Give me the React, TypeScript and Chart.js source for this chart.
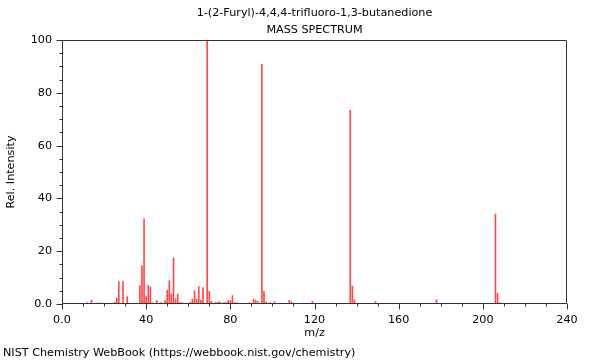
import React, { useEffect, useRef } from 'react';
import { Chart, registerables } from 'chart.js';

Chart.register(...registerables);

const TITLE = '1-(2-Furyl)-4,4,4-trifluoro-1,3-butanedione';
const SUBTITLE = 'MASS SPECTRUM';
const X_TITLE = 'm/z';
const Y_TITLE = 'Rel. Intensity';
const FOOTER = 'NIST Chemistry WebBook (https://webbook.nist.gov/chemistry)';

const mz = [
  12, 14, 17, 18, 25, 26, 27, 29, 31, 37, 38, 39, 40, 41, 42, 43, 45, 47, 49, 50,
  51, 52, 53, 54, 55, 56, 57, 61, 62, 63, 64, 65, 66, 67, 69, 70, 71, 73, 74, 75,
  77, 78, 79, 80, 81, 82, 83, 89, 91, 92, 93, 95, 96, 97, 99, 101, 108, 109, 119, 121,
  137, 138, 139, 149, 178, 206, 207, 208,
];
const intensity = [
  0.5, 1.5, 0.4, 0.4, 0.6, 2.3, 8.5, 8.6, 2.8, 7.0, 14.5, 32.3, 2.8, 7.0, 6.4, 0.5, 1.3, 0.5, 1.3, 5.3,
  8.8, 3.8, 17.4, 1.9, 3.8, 0.5, 0.5, 0.7, 1.9, 5.0, 1.8, 6.6, 1.5, 6.2, 100, 4.8, 1.0, 0.6, 0.7, 0.8,
  0.5, 0.5, 1.3, 1.3, 3.2, 0.5, 0.5, 0.5, 1.8, 1.5, 1.0, 90.8, 4.8, 0.8, 0.5, 0.9, 1.4, 0.8, 1.0, 0.3,
  73.4, 6.8, 1.6, 0.9, 1.6, 34.1, 4.0, 0.5,
];

const xLabelTicks = [0, 40, 80, 120, 160, 200, 240];
const yLabelTicks = [0, 20, 40, 60, 80, 100];

const FONT_FAMILY = '"DejaVu Sans", sans-serif';
const AXIS_COLOR = '#333333';
const BAR_COLOR = 'rgba(255, 0, 0, 0.72)';

const fmt = (v: number) => (v === 0 ? '0.0' : String(v));

const decorPlugin = {
  id: 'decor',
  afterDraw(chart: any) {
    const { ctx, chartArea: a, scales } = chart;
    const xs = scales.x;
    const ys = scales.y;
    const L = Math.round(a.left) + 0.5;
    const R = Math.round(a.right) - 0.5;
    const T = Math.round(a.top) + 0.5;
    const B = Math.round(a.bottom) - 0.5;
    ctx.save();
    ctx.strokeStyle = AXIS_COLOR;
    ctx.lineWidth = 1;
    ctx.beginPath();
    ctx.moveTo(L, T);
    ctx.lineTo(R, T);
    ctx.lineTo(R, B);
    ctx.lineTo(L, B);
    ctx.closePath();
    xs.ticks.forEach((t: any) => {
      const px = Math.round(xs.getPixelForValue(t.value)) + 0.5;
      const len = xLabelTicks.includes(t.value) ? 6 : 3;
      ctx.moveTo(px, B);
      ctx.lineTo(px, B + len);
    });
    ys.ticks.forEach((t: any) => {
      const py = Math.round(ys.getPixelForValue(t.value)) + 0.5;
      const len = yLabelTicks.includes(t.value) ? 6 : 3;
      ctx.moveTo(L, py);
      ctx.lineTo(L - len, py);
    });
    ctx.stroke();

    ctx.fillStyle = '#000';
    ctx.font = `11.2px ${FONT_FAMILY}`;
    ctx.textBaseline = 'middle';
    ctx.textAlign = 'center';
    const cx = (a.left + a.right) / 2;
    ctx.fillText(TITLE, cx, 13);
    ctx.fillText(SUBTITLE, cx, 30);
    ctx.fillText(X_TITLE, cx, 333);
    ctx.textAlign = 'left';
    ctx.fillText(FOOTER, 3, 353);
    ctx.save();
    ctx.translate(11, (a.top + a.bottom) / 2);
    ctx.rotate(-Math.PI / 2);
    ctx.textAlign = 'center';
    ctx.fillText(Y_TITLE, 0, 0);
    ctx.restore();
    ctx.restore();
  },
};

export default function App() {
  const ref = useRef<HTMLCanvasElement | null>(null);
  useEffect(() => {
    if (!ref.current) return;
    Chart.defaults.font.family = FONT_FAMILY;
    Chart.defaults.font.size = 11.2;
    Chart.defaults.color = '#000';
    const chart = new Chart(ref.current, {
      type: 'bar',
      data: {
        datasets: [
          {
            data: mz.map((m, i) => ({ x: m, y: intensity[i] })),
            backgroundColor: BAR_COLOR,
            borderWidth: 0,
            barThickness: 1,
          },
        ],
      },
      options: {
        responsive: false,
        animation: false,
        layout: { padding: { left: 0, right: 33, top: 40, bottom: 0 } },
        plugins: { legend: { display: false }, tooltip: { enabled: false }, title: { display: false } },
        scales: {
          x: {
            type: 'linear',
            min: 0,
            max: 240,
            offset: false,
            grid: { display: false, drawTicks: false },
            border: { display: false },
            ticks: {
              stepSize: 10,
              autoSkip: false,
              maxRotation: 0,
              padding: 9,
              callback: (v: any) => (xLabelTicks.includes(Number(v)) ? fmt(Number(v)) : ''),
            },
            afterFit: (s: any) => {
              s.height = 56;
            },
          },
          y: {
            min: 0,
            max: 100,
            grid: { display: false, drawTicks: false },
            border: { display: false },
            ticks: {
              stepSize: 5,
              autoSkip: false,
              padding: 10,
              callback: (v: any) => (yLabelTicks.includes(Number(v)) ? fmt(Number(v)) : ''),
            },
            afterFit: (s: any) => {
              s.width = 62;
            },
          },
        },
      },
      plugins: [decorPlugin],
    } as any);
    return () => chart.destroy();
  }, []);
  return (
    <div style={{ position: 'absolute', left: 0, top: 0, width: 600, height: 360, background: '#fff' }}>
      <canvas ref={ref} width={600} height={360} />
    </div>
  );
}
